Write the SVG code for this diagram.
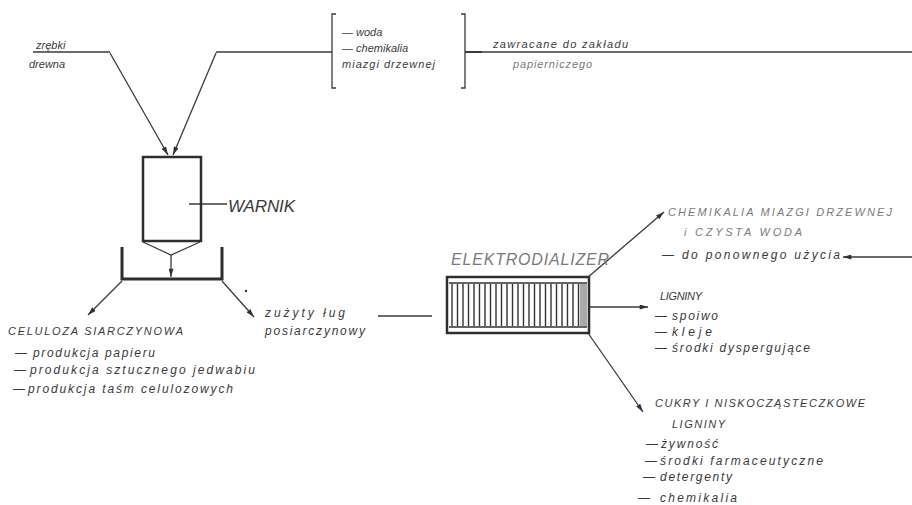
<svg xmlns="http://www.w3.org/2000/svg" width="912" height="505" viewBox="0 0 912 505">
<style>
text{font-family:"Liberation Sans","DejaVu Sans",sans-serif;font-style:italic;fill:#3a3a3a}
.s{font-size:11px}
.m{font-size:12px}
.g{fill:#7a7a7a}
.ln{stroke:#3a3a3a;stroke-width:1.3;fill:none}
.th{stroke:#2e2e2e;stroke-width:3;fill:none}
.ar{stroke:#3a3a3a;stroke-width:1.3;fill:none;marker-end:url(#ah)}
.st{stroke:#333;stroke-width:1.4}
</style>
<defs>
<marker id="ah" viewBox="0 0 10 6" markerWidth="9" markerHeight="5" refX="10" refY="3" orient="auto" markerUnits="userSpaceOnUse">
<path d="M0,0 L10,3 L0,6 z" fill="#333"/>
</marker>
</defs>
<rect width="912" height="505" fill="#fff"/>

<g id="connectors">
<path class="ln" d="M33,52 L110,52"/>
<path class="ar" d="M110,53 L168,155"/>
<path class="ln" d="M216,52 L332,52"/>
<path class="ar" d="M216,53 L173,155"/>
<path class="ln" d="M189,204 L227,204"/>
<path class="ln" d="M143,242 L171,255 L200,242"/>
<path class="ar" d="M171,255 L171,277"/>
<path class="ar" d="M122,281 L88,315"/>
<path class="ar" d="M222,281 L254,317"/>
<path class="ln" d="M378,316 L432,316"/>
<path class="ln" d="M482,52 L912,52"/>
<path class="ar" d="M587,278 L664,212"/>
<path class="ar" d="M590,307 L648,307"/>
<path class="ar" d="M588,333 L643,412"/>
<path class="ar" d="M912,257 L843,257"/>
</g>

<g id="zrebki">
<text class="s" x="36" y="49">zrębki</text>
<text class="s" x="29" y="68">drewna</text>
</g>

<g id="bracket">
<path class="ln" d="M336,14 L332,14 L332,88 L336,88"/>
<path class="ln" d="M461,14 L465,14 L465,88 L461,88"/>
<path class="ln" d="M465,52 L482,52" style="stroke-width:2"/>
<text class="s" x="342" y="36">— woda</text>
<text class="s" x="342" y="52">— chemikalia</text>
<text class="s" x="342" y="68" textLength="93" lengthAdjust="spacing">miazgi drzewnej</text>
</g>

<g id="zawracane">
<text class="s" x="493" y="48" textLength="135" lengthAdjust="spacing">zawracane do zakładu</text>
<text class="s g" x="513" y="68" textLength="79" lengthAdjust="spacing">papierniczego</text>
</g>

<g id="warnik">
<rect x="143" y="157" width="58" height="84" class="th" style="stroke-width:2.5"/>
<text x="228" y="212" style="font-size:17px" textLength="67" lengthAdjust="spacing">WARNIK</text>
</g>

<g id="tray">
<path class="th" d="M122,247 L122,279 L222,279 L222,247"/>
<circle cx="246" cy="291" r="1.2" fill="#333"/>
</g>

<g id="celuloza">
<text class="s" x="8" y="335" textLength="175" lengthAdjust="spacing">CELULOZA  SIARCZYNOWA</text>
<text class="m" x="15" y="357">—</text>
<text class="m" x="33" y="357" textLength="122" lengthAdjust="spacing">produkcja papieru</text>
<text class="m" x="14" y="374">—</text>
<text class="m" x="30" y="374" textLength="225" lengthAdjust="spacing">produkcja sztucznego jedwabiu</text>
<text class="m" x="13" y="393">—</text>
<text class="m" x="28" y="393" textLength="205" lengthAdjust="spacing">produkcja taśm celulozowych</text>
</g>

<g id="lug">
<text class="m" x="265" y="317" textLength="80" lengthAdjust="spacing">zużyty ług</text>
<text class="m" x="265" y="335" textLength="100" lengthAdjust="spacing">posiarczynowy</text>
</g>

<g id="elektrodializer">
<text class="g" x="451" y="265" style="font-size:16px" textLength="158" lengthAdjust="spacing">ELEKTRODIALIZER</text>
<rect x="447" y="277" width="142" height="56" fill="#fff" stroke="#2e2e2e" stroke-width="2.5"/>
<path class="st" d="M449,283 L587,283 M449,327 L587,327"/>
<path class="st" d="M452,284 V326 M457.5,284 V326 M463,284 V326 M468.5,284 V326 M474,284 V326 M479.5,284 V326 M485,284 V326 M490.5,284 V326 M496,284 V326 M501.5,284 V326 M507,284 V326 M512.5,284 V326 M518,284 V326 M523.5,284 V326 M529,284 V326 M534.5,284 V326 M540,284 V326 M545.5,284 V326 M551,284 V326 M556.5,284 V326 M562,284 V326 M567.5,284 V326 M573,284 V326 M578.5,284 V326"/>
<rect x="580" y="284" width="7" height="42" fill="#aaa"/>
</g>

<g id="chemikalia">
<text class="s g" x="668" y="216" textLength="224" lengthAdjust="spacing">CHEMIKALIA  MIAZGI  DRZEWNEJ</text>
<text class="s g" x="684" y="236" textLength="118" lengthAdjust="spacing">i  CZYSTA  WODA</text>
<text class="m" x="662" y="259" textLength="178" lengthAdjust="spacing">— do ponownego użycia</text>
</g>

<g id="ligniny">
<text class="s" x="660" y="300" textLength="42" lengthAdjust="spacing">LIGNINY</text>
<text class="m" x="655" y="320">—</text>
<text class="m" x="672" y="320" textLength="46" lengthAdjust="spacing">spoiwo</text>
<text class="m" x="655" y="336">—</text>
<text class="m" x="672" y="336" textLength="40" lengthAdjust="spacing">kleje</text>
<text class="m" x="655" y="352">—</text>
<text class="m" x="672" y="352" textLength="138" lengthAdjust="spacing">środki dyspergujące</text>
</g>

<g id="cukry">
<text class="s" x="655" y="407" textLength="210" lengthAdjust="spacing">CUKRY I  NISKOCZĄSTECZKOWE</text>
<text class="s" x="672" y="428" textLength="53" lengthAdjust="spacing">LIGNINY</text>
<text class="m" x="646" y="448">—</text>
<text class="m" x="661" y="448" textLength="57" lengthAdjust="spacing">żywność</text>
<text class="m" x="645" y="465">—</text>
<text class="m" x="660" y="465" textLength="163" lengthAdjust="spacing">środki farmaceutyczne</text>
<text class="m" x="643" y="481">—</text>
<text class="m" x="660" y="481" textLength="72" lengthAdjust="spacing">detergenty</text>
<text class="m" x="638" y="502">—</text>
<text class="m" x="660" y="502" textLength="77" lengthAdjust="spacing">chemikalia</text>
</g>
</svg>
